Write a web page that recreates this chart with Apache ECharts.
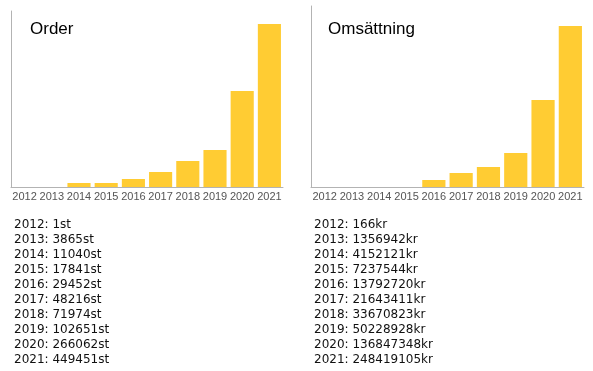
<!DOCTYPE html>
<html>
<head>
<meta charset="utf-8">
<script src="https://cdn.jsdelivr.net/npm/echarts@6/dist/echarts.min.js"></script>
<style>
  html, body { margin: 0; padding: 0; background: #fff; }
  #chart { width: 593px; height: 371px; }
</style>
</head>
<body>
<div id="chart"></div>
<script>
const years = ['2012', '2013', '2014', '2015', '2016', '2017', '2018', '2019', '2020', '2021'];
// Bar heights as drawn in the reference
const orderBars = [0, 0, 11000, 11000, 22000, 41400, 71700, 102000, 264700, 449451];
const revenueBars = [0, 0, 0, 0, 10800000, 21600000, 30900000, 52500000, 134200000, 248419105];
// Listed totals under each chart
const orderCounts = [1, 3865, 11040, 17841, 29452, 48216, 71974, 102651, 266062, 449451];
const revenueTotals = [166, 1356942, 4152121, 7237544, 13792720, 21643411, 33670823, 50228928, 136847348, 248419105];
const titles = ['Order', 'Omsättning'];
const units = ['st', 'kr'];

const chart = echarts.init(document.getElementById('chart'), null, { renderer: 'canvas' });

const axisLineStyle = { lineStyle: { color: '#b3b3b3', width: 1 } };

function xAxis(gridIndex) {
  return {
    type: 'category', gridIndex, data: years,
    axisLine: axisLineStyle, axisTick: { show: false },
    axisLabel: { color: '#555', fontSize: 11, fontFamily: '"Liberation Sans", Arial, sans-serif', margin: 4, interval: 0 }
  };
}
function yAxis(gridIndex, max) {
  return {
    type: 'value', gridIndex, min: 0, max,
    axisLine: Object.assign({ show: true }, axisLineStyle), axisTick: { show: false },
    axisLabel: { show: false }, splitLine: { show: false }
  };
}

const textLines = [];
function addList(values, unit, x) {
  values.forEach((v, i) => {
    textLines.push({
      type: 'text', left: x, top: 219 + 15 * i,
      style: { text: years[i] + ': ' + v + unit, fill: '#111', font: '12px "DejaVu Sans", sans-serif' }
    });
  });
}
addList(orderCounts, units[0], 14);
addList(revenueTotals, units[1], 314);

chart.setOption({
  animation: false,
  title: [
    { text: titles[0], left: 30, top: 21, padding: 0, textStyle: { fontSize: 17, fontWeight: 'normal', color: '#000', fontFamily: '"Liberation Sans", Arial, sans-serif' } },
    { text: titles[1], left: 328, top: 21, padding: 0, textStyle: { fontSize: 17, fontWeight: 'normal', color: '#000', fontFamily: '"Liberation Sans", Arial, sans-serif' } }
  ],
  grid: [
    { left: 11, top: 11, width: 272, height: 176 },
    { left: 311, top: 6, width: 273, height: 181 }
  ],
  xAxis: [xAxis(0), xAxis(1)],
  yAxis: [yAxis(0, 485300), yAxis(1, 279300000)],
  series: [
    { type: 'bar', xAxisIndex: 0, yAxisIndex: 0, data: orderBars, barCategoryGap: '15%', itemStyle: { color: '#ffcc33' } },
    { type: 'bar', xAxisIndex: 1, yAxisIndex: 1, data: revenueBars, barCategoryGap: '15%', itemStyle: { color: '#ffcc33' } }
  ],
  graphic: textLines
});
</script>
</body>
</html>
